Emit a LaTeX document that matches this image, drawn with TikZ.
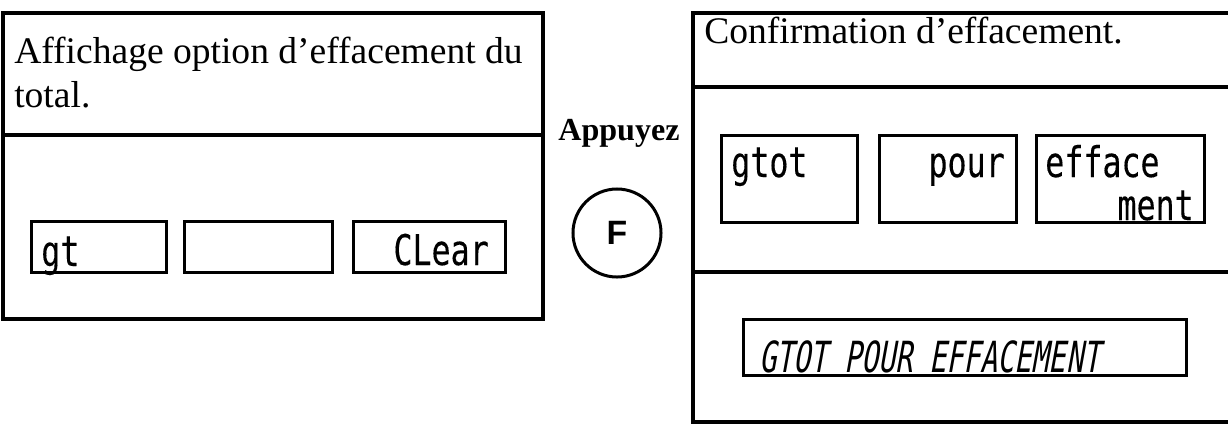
\documentclass[tikz,border=0pt]{standalone}
\usepackage{fontspec}
\setmainfont{Liberation Serif}
\newfontfamily\keyfont{Liberation Sans}
\newfontfamily\lcdfont{DejaVu Sans Mono}[FakeStretch=0.75,FakeBold=0.2]
\newfontfamily\segfont{DejaVu Sans Mono}[FakeStretch=0.66,FakeSlant=0.18]

\begin{document}
\begin{tikzpicture}[x=0.025cm,y=-0.025cm,
    panel/.style={line width=0.08cm},
    lcdbox/.style={line width=0.075cm},
    title/.style={inner sep=0pt,font=\fontsize{26.7}{31.3}\selectfont},
    lcd/.style={inner sep=0pt,font=\fontsize{30}{32}\lcdfont},
    seg/.style={inner sep=0pt,font=\fontsize{30.5}{32}\segfont}]
  \useasboundingbox (0,0) rectangle (1228,423);
  % ecran de gauche
  \draw[panel] (3,13) rectangle (543,319);
  \draw[panel] (3,135) -- (543,135);
  \node[title,anchor=north west,align=left] (affichage) at (14,37) {Affichage option d’effacement du\\total.};
  \draw[lcdbox] (31,221) rectangle (166,272);
  \draw[lcdbox] (184,221) rectangle (332,272);
  \draw[lcdbox] (353,221) rectangle (505,272);
  \node[lcd,anchor=base west] (gt) at (41,266) {gt};
  \node[lcd,anchor=base east] (clear) at (489,265) {CLear};
  % touche
  \node[inner sep=0pt,font=\fontsize{22.8}{24}\selectfont\bfseries,anchor=base] (appuyez) at (619,140) {Appuyez};
  \node[draw,circle,line width=0.075cm,minimum size=2.2cm,inner sep=0pt,font=\fontsize{24}{26}\keyfont\bfseries] (fkey) at (617,233) {F};
  % ecran de droite
  \draw[panel] (1228,13) -- (693,13) -- (693,422) -- (1228,422);
  \draw[panel] (693,87) -- (1228,87);
  \draw[panel] (693,272) -- (1228,272);
  \node[title,anchor=base west] (confirmation) at (704,43) {Confirmation d’effacement.};
  \draw[lcdbox] (721,135) rectangle (857,222);
  \draw[lcdbox] (879,135) rectangle (1016,222);
  \draw[lcdbox] (1036,135) rectangle (1204,222);
  \node[lcd,anchor=base west] (gtot) at (731,177) {gtot};
  \node[lcd,anchor=base east] (pour) at (1005,177) {pour};
  \node[lcd,anchor=base west] (efface) at (1045,177) {efface};
  \node[lcd,anchor=base east] (ment) at (1194,220) {ment};
  \draw[lcdbox] (743,319) rectangle (1186,375);
  \node[seg,anchor=base west] (message) at (759,372) {GTOT POUR EFFACEMENT};
\end{tikzpicture}
\end{document}
